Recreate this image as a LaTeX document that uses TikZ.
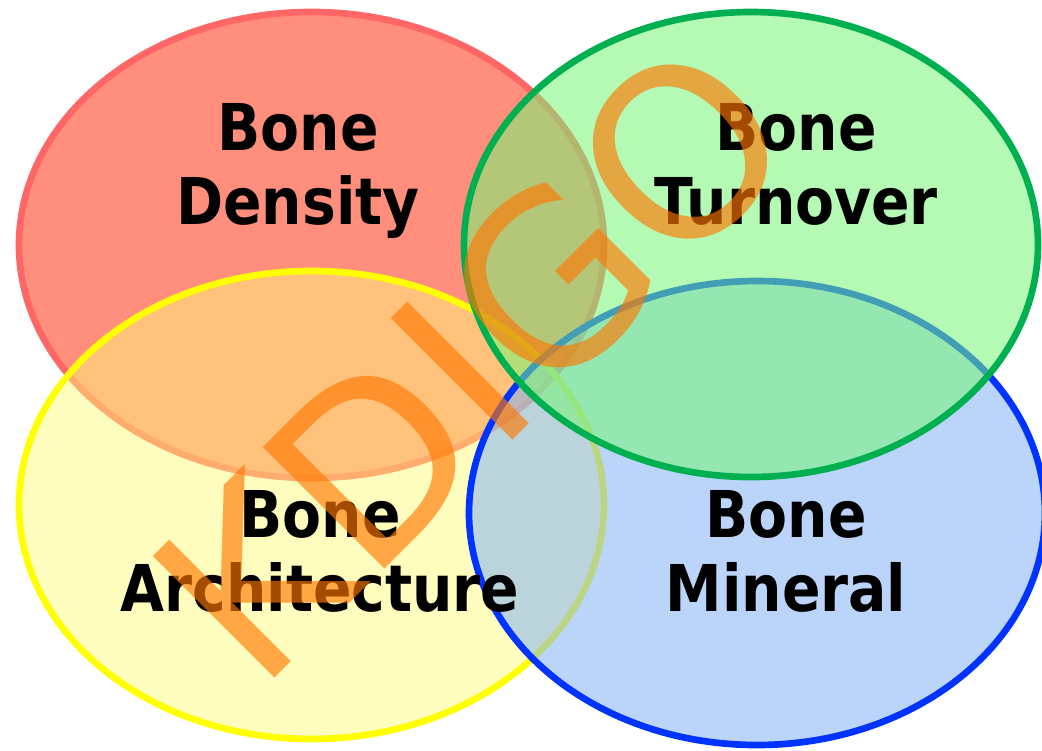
\documentclass[tikz,border=0pt]{standalone}
\usepackage{fontspec}
\usepackage{tikz}
\usetikzlibrary{positioning}
\newfontfamily\labelfont[FakeStretch=0.88]{DejaVu Sans}
\newfontfamily\markfont{DejaVu Sans}
\definecolor{redline}{RGB}{255,102,102}
\definecolor{redfill}{RGB}{255,143,124}
\definecolor{greenline}{RGB}{0,176,80}
\definecolor{greenfill}{RGB}{119,246,119}
\definecolor{yellowline}{RGB}{255,255,0}
\definecolor{yellowfill}{RGB}{255,251,120}
\definecolor{blueline}{RGB}{0,51,255}
\definecolor{bluefill}{RGB}{130,178,246}
\definecolor{markorange}{RGB}{255,119,0}
\tikzset{
  venn/.style={line width=5pt},
  densityset/.style={venn,draw=redline,fill=redfill},
  turnoverset/.style={venn,draw=greenline,fill=greenfill,fill opacity=0.55},
  archset/.style={venn,draw=yellowline,fill=yellowfill,fill opacity=0.48},
  mineralset/.style={venn,draw=blueline,fill=bluefill,fill opacity=0.54},
  setlabel/.style={font=\labelfont\bfseries\fontsize{48.4}{55.5}\selectfont,align=center,inner sep=0pt,anchor=north,text=black},
  watermark/.style={font=\markfont\fontsize{177}{177}\selectfont,inner sep=0pt,text=markorange,text opacity=0.64,rotate=45}
}
\begin{document}
\begin{tikzpicture}[x=0.75pt,y=-0.75pt]
  \useasboundingbox[fill=white] (0,0) rectangle (1042,750);

  % the four sets
  \draw[densityset] (311.5,245) ellipse [x radius=292.5,y radius=233];
  \draw[archset] (311.5,505) ellipse [x radius=292.5,y radius=234];
  \draw[mineralset] (757,513) ellipse [x radius=288,y radius=232];
  \draw[turnoverset] (751,244.5) ellipse [x radius=287,y radius=232.5];

  % labels
  \node[setlabel] (density) at (298,103) {Bone\\Density};
  \node[setlabel] (turnover) at (796,103) {Bone\\Turnover};
  \node[setlabel] (architecture) at (320,490) {Bone\\Architecture};
  \node[setlabel] (mineral) at (786,490) {Bone\\Mineral};

  \node[watermark] (kdigo) at (472,360) {KDIGO};
\end{tikzpicture}
\end{document}
